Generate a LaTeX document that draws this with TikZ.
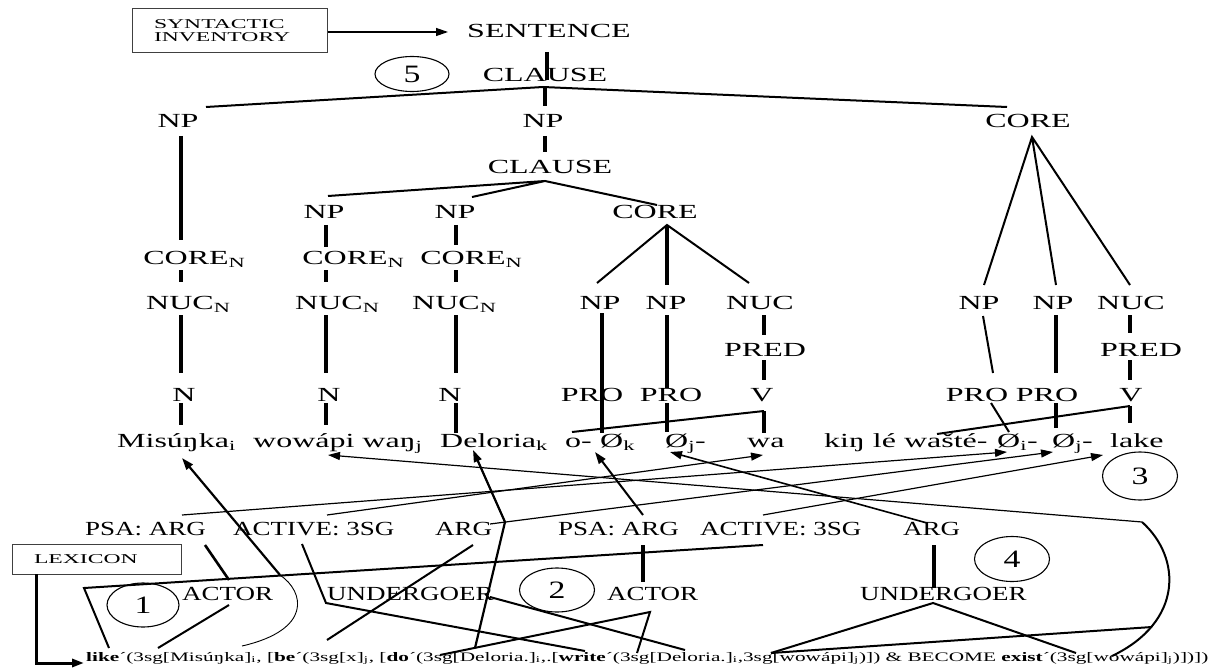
\documentclass[tikz,border=0pt]{standalone}
\usepackage{fontspec}
\usepackage{graphicx}
\setmainfont{Liberation Serif}
\newfontfamily\upf{Liberation Serif}[FakeStretch=1.6]
\newfontfamily\lowf{Liberation Serif}[FakeStretch=1.35]
\newfontfamily\boxf{Liberation Serif}[FakeStretch=1.75]
\usetikzlibrary{arrows.meta,shapes.geometric}
\tikzset{
  cat/.style={font={\upf\fontsize{20}{24}\selectfont}, inner sep=0pt, text height=13pt, text depth=0pt},
  wrd/.style={font={\upf\fontsize{20}{24}\selectfont}, inner sep=0pt, anchor=base west},
  rol/.style={font={\lowf\fontsize{20}{24}\selectfont}, inner sep=0pt, anchor=base west},
  tag/.style={draw, ellipse, line width=1.1pt, inner sep=0pt, font={\lowf\fontsize{25}{28}\selectfont}},
  inv/.style={draw=black!75, line width=1pt, inner ysep=0pt, inner xsep=22pt, align=left, font={\boxf\fontsize{13.5}{13}\selectfont}},
  thk/.style={line width=3.4pt},
  med/.style={line width=2pt},
  thn/.style={line width=1.2pt},
  tip/.style={-{Triangle[length=12pt,width=8pt]}},
}
\begin{document}
\begin{tikzpicture}[x=1pt,y=-1pt]
\useasboundingbox (0,0) rectangle (1222,668);

% ---------- inventories ----------
\node[inv, text width=151pt, minimum height=44pt] (syn) at (229.5,31) {SYNTACTIC\\INVENTORY};
\node[inv, text width=125pt, minimum height=30pt] (lex) at (96.5,559) {LEXICON};

% ---------- syntactic tree labels ----------
\node[cat] (sent) at (549,31) {SENTENCE};
\node[cat] (cl1) at (545,75) {CLAUSE};
\node[cat] (npA) at (178,121) {NP};
\node[cat] (npB) at (543,121) {NP};
\node[cat] (coreA) at (1028,121) {CORE};
\node[cat] (cl2) at (550,167) {CLAUSE};
\node[cat] (npC) at (324,212) {NP};
\node[cat] (npD) at (455,212) {NP};
\node[cat] (coreB) at (655,212) {CORE};
\node[cat] (cnA) at (186,258) {CORE\rlap{\textsubscript{N}}};
\node[cat] (cnB) at (345,258) {CORE\rlap{\textsubscript{N}}};
\node[cat] (cnC) at (463,258) {CORE\rlap{\textsubscript{N}}};
\node[cat] (nnA) at (180,303) {NUC\rlap{\textsubscript{N}}};
\node[cat] (nnB) at (329,303) {NUC\rlap{\textsubscript{N}}};
\node[cat] (nnC) at (446,303) {NUC\rlap{\textsubscript{N}}};
\node[cat] (nA) at (184,395) {N};
\node[cat] (nB) at (329,395) {N};
\node[cat] (nC) at (450,395) {N};
\node[cat] (npE) at (600,303) {NP};
\node[cat] (npF) at (666,303) {NP};
\node[cat] (nucA) at (760,303) {NUC};
\node[cat] (predA) at (765,350) {PRED};
\node[cat] (proA) at (592,395) {PRO};
\node[cat] (proB) at (671,395) {PRO};
\node[cat] (vA) at (762,395) {V};
\node[cat] (npG) at (979,303) {NP};
\node[cat] (npH) at (1053,303) {NP};
\node[cat] (nucB) at (1131,303) {NUC};
\node[cat] (predB) at (1141,350) {PRED};
\node[cat] (proC) at (977,395) {PRO};
\node[cat] (proD) at (1047,395) {PRO};
\node[cat] (vB) at (1131,395) {V};

% ---------- words ----------
\node[wrd] (wMis) at (117,447) {Misúŋka\textsubscript{i}};
\node[wrd] (wWow) at (253,447) {wowápi waŋ\textsubscript{j}};
\node[wrd] (wDel) at (440,447) {Deloria\textsubscript{k}};
\node[wrd] (wO) at (565,447) {o-};
\node[wrd] (wOk) at (600,447) {Ø\textsubscript{k}};
\node[wrd] (wOj) at (665,447) {Ø\textsubscript{j}-};
\node[wrd] (wWa) at (747,447) {wa};
\node[wrd] (wKin) at (824,447) {kiŋ lé wašté-};
\node[wrd] (wOi) at (997,447) {Ø\textsubscript{i}-};
\node[wrd] (wOj2) at (1052,447) {Ø\textsubscript{j}-};
\node[wrd] (wLake) at (1110,447) {lake};

% ---------- semantic roles and macroroles ----------
\node[rol] (psa1) at (85,535) {PSA: ARG};
\node[rol] (act1) at (233,535) {ACTIVE: 3SG};
\node[rol] (arg1) at (435,535) {ARG};
\node[rol] (psa2) at (558,535) {PSA: ARG};
\node[rol] (act2) at (700,535) {ACTIVE: 3SG};
\node[rol] (arg2) at (903,535) {ARG};
\node[rol] (actor1) at (182,600) {ACTOR};
\node[rol] (und1) at (327,600) {UNDERGOER};
\node[rol] (actor2) at (607,600) {ACTOR};
\node[rol] (und2) at (860,600) {UNDERGOER};

% ---------- step numbers ----------
\node[tag, minimum width=74pt, minimum height=35pt] (t5) at (412,74) {5};
\node[tag, minimum width=72pt, minimum height=44pt] (t1) at (143,605) {1};
\node[tag, minimum width=75pt, minimum height=44pt] (t2) at (557,590) {2};
\node[tag, minimum width=75pt, minimum height=48pt] (t3) at (1140,476) {3};
\node[tag, minimum width=75pt, minimum height=45pt] (t4) at (1012,559) {4};

% ---------- logical structure ----------
\node[inner sep=0pt, anchor=base west] (ls) at (86,661) {\resizebox{1122pt}{\height}{\fontsize{13}{15}\selectfont
  \textbf{like}´(3sg[Misúŋka]\textsubscript{i}, [\textbf{be}´(3sg[x]\textsubscript{j}, [\textbf{do}´(3sg[Deloria.]\textsubscript{i},.[\textbf{write}´(3sg[Deloria.]\textsubscript{i},3sg[wowápi]\textsubscript{j})]) \& BECOME \textbf{exist}´(3sg[wowápi]\textsubscript{j})])])}};

% ---------- tree coordinates ----------
\coordinate (s0) at (547,52);   \coordinate (s1) at (547,80);
\coordinate (c1ap) at (543,87); \coordinate (c1l) at (206,107); \coordinate (c1r) at (1007,107);
\coordinate (c1m0) at (545,88); \coordinate (c1m1) at (545,106);
\coordinate (pa0) at (181,136); \coordinate (pa1) at (181,240); \coordinate (pa2) at (181,270); \coordinate (pa3) at (181,282);
\coordinate (pa4) at (181,315); \coordinate (pa5) at (181,373); \coordinate (pa6) at (181,403); \coordinate (pa7) at (181,425);
\coordinate (pb0) at (545,136); \coordinate (pb1) at (545,152);
\coordinate (c2ap) at (545,181); \coordinate (c2l) at (328,196); \coordinate (c2m) at (472,197); \coordinate (c2r) at (657,205);
\coordinate (pc0) at (326,225); \coordinate (pc1) at (326,247); \coordinate (pc2) at (326,270); \coordinate (pc3) at (326,282);
\coordinate (pc4) at (326,315); \coordinate (pc5) at (326,373); \coordinate (pc6) at (326,403); \coordinate (pc7) at (326,425);
\coordinate (pd0) at (456,225); \coordinate (pd1) at (456,245); \coordinate (pd2) at (456,270); \coordinate (pd3) at (456,282);
\coordinate (pd4) at (456,315); \coordinate (pd5) at (456,373); \coordinate (pd6) at (456,403); \coordinate (pd7) at (456,433);
\coordinate (cbap) at (667,225); \coordinate (cbl) at (597,283); \coordinate (cbm) at (667,285); \coordinate (cbr) at (749,283);
\coordinate (pe0) at (602,313); \coordinate (pe1) at (602,433);
\coordinate (pf0) at (667,315); \coordinate (pf1) at (667,388); \coordinate (pf2) at (667,403); \coordinate (pf3) at (667,432);
\coordinate (qa0) at (764,315); \coordinate (qa1) at (764,335); \coordinate (qa2) at (764,360); \coordinate (qa3) at (764,380);
\coordinate (qa4) at (764,411); \coordinate (qa5) at (764,433); \coordinate (oa) at (572,432);
\coordinate (caap) at (1032,137); \coordinate (cal) at (984,285); \coordinate (cam) at (1056,285); \coordinate (car) at (1130,285);
\coordinate (pg0) at (983,316); \coordinate (pg1) at (993,373); \coordinate (pg2) at (991,403); \coordinate (pg3) at (1009,432);
\coordinate (ph0) at (1056,315); \coordinate (ph1) at (1056,373); \coordinate (ph2) at (1056,403); \coordinate (ph3) at (1056,428);
\coordinate (qb0) at (1130,315); \coordinate (qb1) at (1130,333); \coordinate (qb2) at (1130,360); \coordinate (qb3) at (1130,380);
\coordinate (qb4) at (1130,406); \coordinate (qb5) at (1130,423); \coordinate (wk) at (937,434);

% ---------- tree branches ----------
\draw[thk] (s0) -- (s1);
\draw[med] (c1l) -- (c1ap) -- (c1r);
\draw[thk] (c1m0) -- (c1m1);
\draw[thk] (pa0) -- (pa1) (pa2) -- (pa3) (pa4) -- (pa5) (pa6) -- (pa7);
\draw[thk] (pb0) -- (pb1);
\draw[med] (c2l) -- (c2ap) -- (c2r) (c2ap) -- (c2m);
\draw[thk] (pc0) -- (pc1) (pc2) -- (pc3) (pc4) -- (pc5) (pc6) -- (pc7);
\draw[thk] (pd0) -- (pd1) (pd2) -- (pd3) (pd4) -- (pd5) (pd6) -- (pd7);
\draw[med] (cbl) -- (cbap) -- (cbr);
\draw[thk] (cbap) -- (cbm);
\draw[thk] (pe0) -- (pe1);
\draw[thk] (pf0) -- (pf1) (pf2) -- (pf3);
\draw[thk] (qa0) -- (qa1) (qa2) -- (qa3) (qa4) -- (qa5);
\draw[med] (qa4) -- (oa);
\draw[med] (cal) -- (caap) -- (car) (caap) -- (cam);
\draw[med] (pg0) -- (pg1) (pg2) -- (pg3);
\draw[thk] (ph0) -- (ph1) (ph2) -- (ph3);
\draw[thk] (qb0) -- (qb1) (qb2) -- (qb3) (qb4) -- (qb5);
\draw[med] (qb4) -- (wk);

% ---------- link coordinates ----------
\coordinate (synend) at (448,32);
\coordinate (lx0) at (36,574); \coordinate (lx1) at (36,663); \coordinate (lx2) at (84,663);
\coordinate (misA) at (280,575); \coordinate (misT) at (182,458); \coordinate (misE) at (242,646);
\coordinate (bigA) at (1142,522); \coordinate (wowT) at (328,455); \coordinate (bigE) at (1112,656);
\coordinate (wl0) at (771,653); \coordinate (wl1) at (1152,627);
\coordinate (del0) at (475,648); \coordinate (del1) at (505,522); \coordinate (delT) at (473,450);
\coordinate (psa2t) at (643,515); \coordinate (okT) at (595,452);
\coordinate (arg2t) at (927,523); \coordinate (ojT) at (670,452);
\coordinate (act1t) at (327,515); \coordinate (waT) at (763,455);
\coordinate (psa1t) at (182,515); \coordinate (oiT) at (1007,452);
\coordinate (arg1t) at (490,524); \coordinate (oj2T) at (1053,452);
\coordinate (act2t) at (763,515); \coordinate (lakeT) at (1103,455);
\coordinate (pa1b) at (205,545); \coordinate (ac1t) at (229,580);
\coordinate (ac1b) at (229,605); \coordinate (lk1) at (158,648);
\coordinate (ac1s) at (302,544); \coordinate (ac1k) at (326,603); \coordinate (wr1) at (585,651);
\coordinate (ar1b) at (473,545); \coordinate (be1) at (327,640);
\coordinate (un1r) at (490,597); \coordinate (un1e) at (685,650);
\coordinate (ps2b) at (643,545); \coordinate (ac2t) at (643,582);
\coordinate (tr0) at (440,655); \coordinate (trA) at (650,612); \coordinate (tr1) at (637,653);
\coordinate (ar2b) at (934,545); \coordinate (un2t) at (934,588);
\coordinate (tu0) at (771,653); \coordinate (tuA) at (933,603); \coordinate (tu1) at (1076,653);
\coordinate (ac2b) at (763,545); \coordinate (gk) at (84,588); \coordinate (lk0) at (109,648);

% ---------- links ----------
\draw[thn, tip] (syn.east |- synend) -- (synend);
\draw[line width=3pt, tip] (lx0) -- (lx1) -- (lx2);
\draw[line width=2.2pt, tip] (misA) -- (misT);
\draw[line width=0.9pt] (misA) .. controls (305,592) and (312,630) .. (misE);
\draw[thn, tip] (bigA) -- (wowT);
\draw[line width=2pt] (bigA) .. controls (1182,558) and (1183,622) .. (bigE);
\draw[med] (wl0) -- (wl1);
\draw[line width=2.2pt, tip] (del0) -- (del1) -- (delT);
\draw[line width=2pt, tip] (psa2t) -- (okT);
\draw[line width=1.6pt, tip] (arg2t) -- (ojT);
\draw[thn, tip] (act1t) -- (waT);
\draw[thn, tip] (psa1t) -- (oiT);
\draw[thn, tip] (arg1t) -- (oj2T);
\draw[thn, tip] (act2t) -- (lakeT);
\draw[line width=2.6pt] (pa1b) -- (ac1t);
\draw[med] (ac1b) -- (lk1);
\draw[med] (ac1s) -- (ac1k) -- (wr1);
\draw[med] (ar1b) -- (be1);
\draw[med] (un1r) -- (un1e);
\draw[thk] (ps2b) -- (ac2t);
\draw[med] (tr0) -- (trA) -- (tr1);
\draw[thk] (ar2b) -- (un2t);
\draw[med] (tu0) -- (tuA) -- (tu1);
\draw[med] (ac2b) -- (gk) -- (lk0);
\end{tikzpicture}
\end{document}
